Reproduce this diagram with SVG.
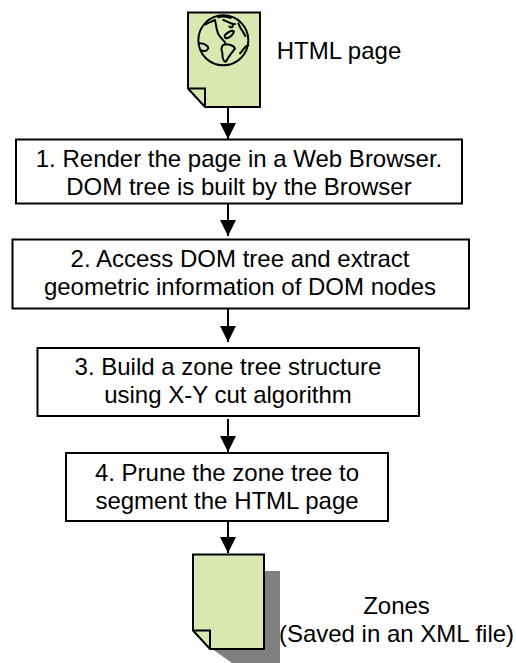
<svg xmlns="http://www.w3.org/2000/svg" width="516" height="663" viewBox="0 0 516 663">
<style>
text{font-family:"Liberation Sans",Arial,sans-serif;font-size:24px;fill:#000;text-anchor:middle}
.box{fill:#fff;stroke:#000;stroke-width:2}
.doc{fill:#d9e8b0;stroke:#000;stroke-width:2}
.c{fill:none;stroke:#000;stroke-width:2}
.g{fill:none;stroke:#000;stroke-width:6;stroke-linejoin:round;stroke-linecap:round}
</style>
<defs><marker id="a" markerUnits="userSpaceOnUse" markerWidth="16" markerHeight="16" refX="16" refY="8" orient="auto"><path d="M0 0L16 8L0 16z" fill="#000"/></marker></defs>
<rect width="516" height="663" fill="#fff"/>
<g id="connectors">
<path class="c" d="M228 107V139" marker-end="url(#a)"/>
<path class="c" d="M228 204V236" marker-end="url(#a)"/>
<path class="c" d="M228 309V342" marker-end="url(#a)"/>
<path class="c" d="M228 419V452" marker-end="url(#a)"/>
<path class="c" d="M228 521V553" marker-end="url(#a)"/>
</g>
<g id="html-page">
<path class="doc" d="M188 12.500H260V107H205L188 88.500Z"/>
<path class="c" d="M188 88.500H205V107"/>
<g transform="translate(190 10) scale(.3333)">
<circle class="g" cx="100" cy="91" r="75"/>
<path class="g" d="M75 30C78 45 80 60 84 70C88 80 100 90 105 97M47 43C55 38 65 35 75 30M100 105C110 100 130 105 135 115C125 130 115 140 108 155C100 155 97 140 97 128C92 118 95 108 100 105ZM105 75C115 65 128 58 132 65C128 75 118 85 108 85C104 83 103 78 105 75ZM100 30C115 35 125 45 135 42M118 50C125 55 130 50 128 45M145 40C150 55 160 65 166 78M175 105C160 110 158 125 150 130M27 100C40 98 55 108 55 115C50 125 40 125 33 120M85 22C95 18 110 20 122 24"/>
</g>
<text x="339" y="59">HTML page</text>
</g>
<g id="step1">
<rect class="box" x="16" y="139.500" width="446" height="64"/>
<text x="239" y="167">1. Render the page in a Web Browser.</text>
<text x="239" y="195">DOM tree is built by the Browser</text>
</g>
<g id="step2">
<rect class="box" x="12.500" y="239.500" width="456.500" height="69"/>
<text x="240" y="267">2. Access DOM tree and extract</text>
<text x="240" y="295">geometric information of DOM nodes</text>
</g>
<g id="step3">
<rect class="box" x="37.500" y="348" width="381.500" height="68"/>
<text x="228" y="375">3. Build a zone tree structure</text>
<text x="228" y="403">using X-Y cut algorithm</text>
</g>
<g id="step4">
<rect class="box" x="66" y="453" width="322" height="68"/>
<text x="227" y="481">4. Prune the zone tree to</text>
<text x="227" y="509">segment the HTML page</text>
</g>
<g id="zones">
<path d="M208 571H280V663H232L208 646Z" fill="#808080"/>
<path class="doc" d="M193 554.500H264V649H210L193 630.500Z"/>
<path class="c" d="M193 630.500H210V649"/>
<text x="396.500" y="614">Zones</text>
<text x="396.500" y="642">(Saved in an XML file)</text>
</g>
</svg>
